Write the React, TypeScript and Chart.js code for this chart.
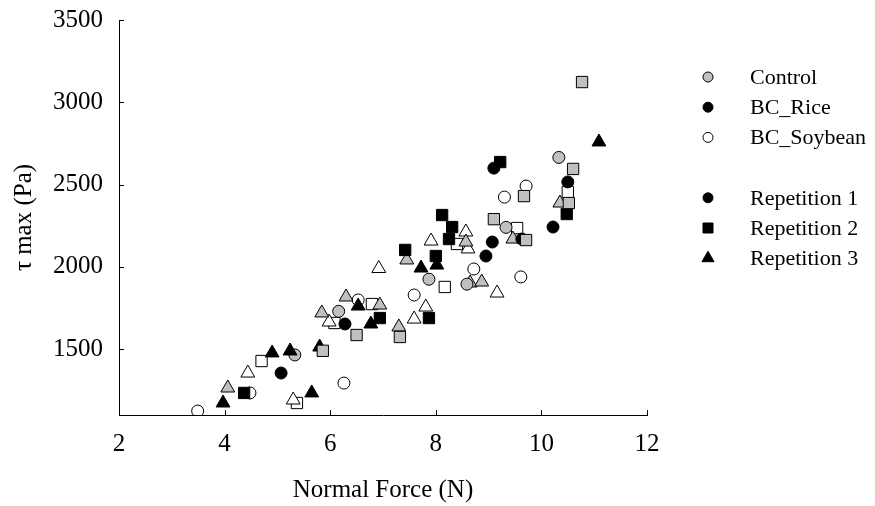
import { useEffect, useRef } from 'react';
import { Chart, registerables } from 'chart.js';

Chart.register(...registerables);

// Axis ticks
const xTicks = [2, 4, 6, 8, 10, 12];
const yTicks = [1500, 2000, 2500, 3000, 3500];

// Treatments (fill colour) and repetitions (marker shape)
const treatments = ['Control', 'BC_Rice', 'BC_Soybean'];
const treatmentColors = ['#c0c0c0', '#000000', '#ffffff'];
const repetitions = ['Repetition 1', 'Repetition 2', 'Repetition 3'];
const repShapes = ['circle', 'rect', 'triangle'];

// Measurements: [normal force (N), tau max (Pa)]
const controlRep1: [number, number][] = [
  [5.33, 1465], [6.16, 1730], [7.87, 1925], [8.59, 1895], [9.33, 2240], [10.33, 2665],
];
const controlRep2: [number, number][] = [
  [5.86, 1490], [6.5, 1586], [7.32, 1574], [9.1, 2290], [9.67, 2430], [9.71, 2163],
  [10.52, 2388], [10.6, 2595], [10.77, 3123],
];
const controlRep3: [number, number][] = [
  [4.06, 1264], [5.84, 1720], [6.3, 1817], [6.94, 1768], [7.3, 1635], [7.45, 2042],
  [8.57, 2151], [8.65, 1902], [8.87, 1908], [9.46, 2169], [10.35, 2388],
];
const riceRep1: [number, number][] = [
  [5.07, 1355], [6.28, 1653], [8.95, 2066], [9.07, 2151], [9.1, 2600], [9.63, 2169],
  [10.22, 2242], [10.5, 2516],
];
const riceRep2: [number, number][] = [
  [4.37, 1234], [6.94, 1689], [7.42, 2103], [7.87, 1689], [8.0, 2066], [8.12, 2315],
  [8.25, 2169], [8.31, 2242], [9.22, 2637], [10.48, 2321],
];
const riceRep3: [number, number][] = [
  [3.97, 1173], [4.9, 1477], [5.24, 1489], [5.65, 1234], [5.8, 1513], [6.53, 1762],
  [6.77, 1653], [7.72, 1993], [8.02, 2011], [11.09, 2759],
];
const soyRep1: [number, number][] = [
  [3.49, 1124], [4.48, 1234], [6.26, 1294], [6.53, 1799], [7.59, 1829], [8.72, 1987],
  [9.3, 2424], [9.61, 1939], [9.71, 2491],
];
const soyRep2: [number, number][] = [
  [4.7, 1428], [5.37, 1173], [6.08, 1659], [6.79, 1774], [8.17, 1878], [8.4, 2139],
  [9.54, 2236], [10.5, 2455],
];
const soyRep3: [number, number][] = [
  [4.44, 1355], [5.3, 1191], [5.98, 1665], [6.92, 1990], [7.59, 1683], [7.81, 1756],
  [7.91, 2157], [8.57, 2212], [8.61, 2109], [9.16, 1841],
];

// Drawing order of the groups: [treatment index, repetition index, data]
const groups: [number, number, [number, number][]][] = [
  [0, 1, controlRep2],
  [1, 0, riceRep1],
  [1, 1, riceRep2],
  [1, 2, riceRep3],
  [0, 0, controlRep1],
  [0, 2, controlRep3],
  [2, 2, soyRep3],
  [2, 1, soyRep2],
  [2, 0, soyRep1],
];

const SERIF = "'Liberation Serif', 'Times New Roman', serif";
const pointRadius: Record<string, number> = { circle: 6, rect: 8, triangle: 8 };

function drawMarker(ctx: CanvasRenderingContext2D, shape: string, x: number, y: number, fill: string) {
  ctx.beginPath();
  if (shape === 'circle') {
    ctx.arc(x, y, 5, 0, Math.PI * 2);
  } else if (shape === 'rect') {
    ctx.rect(x - 5, y - 5, 10, 10);
  } else {
    const r = 7;
    ctx.moveTo(x, y - r);
    ctx.lineTo(x + r * Math.sin((2 * Math.PI) / 3), y - r * Math.cos((2 * Math.PI) / 3));
    ctx.lineTo(x + r * Math.sin((4 * Math.PI) / 3), y - r * Math.cos((4 * Math.PI) / 3));
    ctx.closePath();
  }
  ctx.fillStyle = fill;
  ctx.fill();
  ctx.lineWidth = 1;
  ctx.strokeStyle = '#000';
  ctx.stroke();
}

// Two-part legend on the right: treatments, a gap, then repetitions
const sideLegend = {
  id: 'sideLegend',
  afterDraw(chart: Chart) {
    const ctx = chart.ctx;
    const items = [
      ...treatments.map((t, i) => ({ label: t, fill: treatmentColors[i], shape: 'circle' })),
      null,
      ...repetitions.map((r, i) => ({ label: r, fill: '#000000', shape: repShapes[i] })),
    ];
    ctx.save();
    ctx.font = `22px ${SERIF}`;
    ctx.textBaseline = 'middle';
    ctx.textAlign = 'left';
    items.forEach((it, i) => {
      if (!it) return;
      const y = 77 + i * 30.2;
      drawMarker(ctx, it.shape, 708, y, it.fill);
      ctx.fillStyle = '#000';
      ctx.fillText(it.label, 750, y + 1);
    });
    ctx.restore();
  },
};

// Tick marks pointing into the plot area
const innerTicks = {
  id: 'innerTicks',
  beforeDatasetsDraw(chart: Chart) {
    const { ctx, chartArea } = chart;
    const xs = chart.scales.x;
    const ys = chart.scales.y;
    ctx.save();
    ctx.strokeStyle = '#000';
    ctx.lineWidth = 1;
    ctx.beginPath();
    yTicks.forEach((v) => {
      const py = Math.round(ys.getPixelForValue(v)) + 0.5;
      ctx.moveTo(chartArea.left, py);
      ctx.lineTo(chartArea.left + 5, py);
    });
    xTicks.forEach((v) => {
      const px = Math.round(xs.getPixelForValue(v)) + 0.5;
      ctx.moveTo(px, chartArea.bottom);
      ctx.lineTo(px, chartArea.bottom - 5);
    });
    ctx.stroke();
    ctx.restore();
  },
};

export default function App() {
  const canvasRef = useRef<HTMLCanvasElement>(null);

  useEffect(() => {
    if (!canvasRef.current) return;
    const chart = new Chart(canvasRef.current, {
      type: 'scatter',
      data: {
        datasets: groups.map(([t, r, pts]) => ({
          label: `${treatments[t]} ${repetitions[r]}`,
          data: pts.map(([x, y]) => ({ x, y })),
          pointStyle: repShapes[r] as any,
          pointRadius: pointRadius[repShapes[r]],
          pointBackgroundColor: treatmentColors[t],
          pointBorderColor: '#000000',
          pointBorderWidth: 1,
          showLine: false,
        })),
      },
      options: {
        animation: false,
        responsive: true,
        maintainAspectRatio: false,
        events: [],
        layout: { padding: { top: 20, right: 228, bottom: 0, left: 0 } },
        plugins: {
          legend: { display: false },
          tooltip: { enabled: false },
        },
        scales: {
          x: {
            type: 'linear',
            min: 2,
            max: 12,
            afterBuildTicks: (scale: any) => {
              scale.ticks = xTicks.map((v) => ({ value: v }));
            },
            afterFit: (scale: any) => {
              scale.height = 91;
            },
            grid: { display: false, drawTicks: false },
            border: { display: true, color: '#000', width: 1 },
            ticks: {
              color: '#000',
              padding: 14,
              font: { family: SERIF, size: 25 },
              callback: (v: any) => String(v),
            },
            title: {
              display: true,
              text: 'Normal Force (N)',
              color: '#000',
              font: { family: SERIF, size: 25 },
              padding: { top: 0, bottom: 1 },
            },
          },
          y: {
            type: 'linear',
            min: 1100,
            max: 3500,
            afterBuildTicks: (scale: any) => {
              scale.ticks = yTicks.map((v) => ({ value: v }));
            },
            afterFit: (scale: any) => {
              scale.width = 119;
              scale.paddingTop = 0;
            },
            grid: { display: false, drawTicks: false },
            border: { display: true, color: '#000', width: 1 },
            ticks: {
              color: '#000',
              padding: 16,
              font: { family: SERIF, size: 25 },
              callback: (v: any) => String(v),
            },
            title: {
              display: true,
              text: 'τ max (Pa)',
              color: '#000',
              font: { family: SERIF, size: 25 },
              padding: { top: 9, bottom: 0 },
            },
          },
        },
      },
      plugins: [innerTicks, sideLegend],
    });
    return () => chart.destroy();
  }, []);

  return (
    <div style={{ position: 'absolute', left: 0, top: 0, width: 875, height: 506, background: '#fff' }}>
      <canvas ref={canvasRef} />
    </div>
  );
}
